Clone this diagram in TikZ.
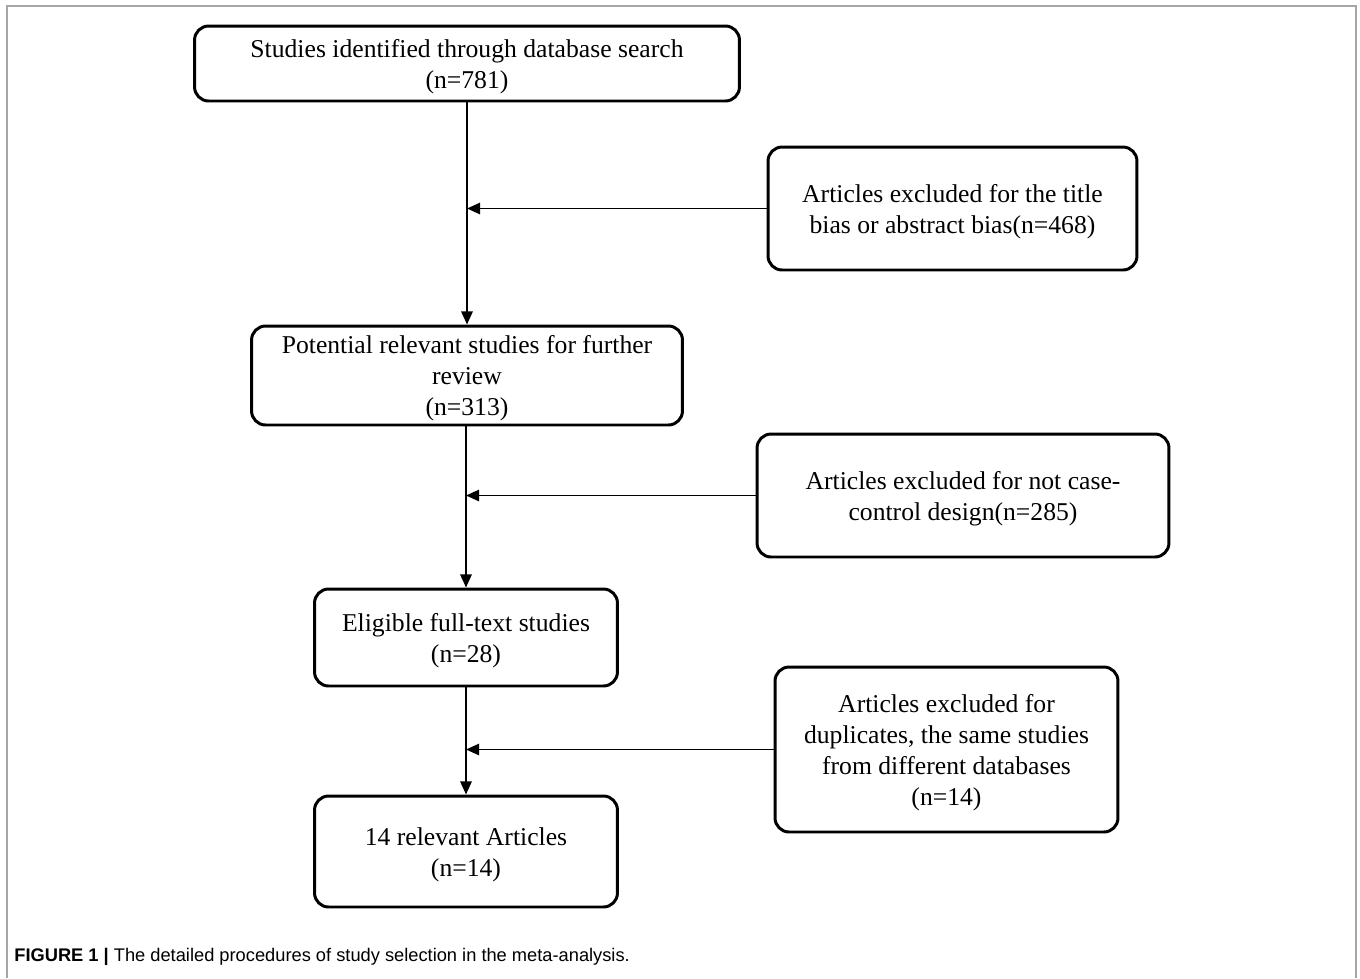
\documentclass[tikz,border=0pt]{standalone}
\usepackage{fontspec}
\setmainfont{Liberation Serif}
\newfontfamily\capfont{Liberation Sans}
\usepackage{tikz}
\usetikzlibrary{positioning,arrows.meta,calc}
\usepackage{xcolor}
\newcommand{\lines}[1]{\begin{tabular}{@{}c@{}}\rule{0pt}{15.8pt}#1\end{tabular}}

\begin{document}
\begin{tikzpicture}[x=0.02cm,y=-0.02cm,
  every node/.style={font=\fontsize{14.6}{17.6}\selectfont},
  stage/.style={draw,line width=1.7pt,rounded corners=8pt,inner sep=0pt},
  flow/.style={line width=1.1pt,-{Triangle[length=7.5pt,width=6.5pt]}}]
\useasboundingbox (0,0) rectangle (1360,978);
\draw[gray!70,line width=1.1pt] (7,978) -- (7,6) -- (1356,6) -- (1356,978);
\node[stage,minimum width=10.9cm,minimum height=1.5cm] (found) at (467,63.5)
  {\lines{Studies identified through database search\\(n=781)}};
\node[stage,minimum width=8.62cm,minimum height=1.98cm] (potential) at (467,375.5)
  {\lines{Potential relevant studies for further\\review\\(n=313)}};
\node[stage,minimum width=6.06cm,minimum height=1.94cm] (eligible) at (466,637.5)
  {\lines{Eligible full-text studies\\(n=28)}};
\node[stage,minimum width=6.06cm,minimum height=2.22cm] (relevant) at (466,851.5)
  {\lines{14 relevant Articles\\(n=14)}};
\node[stage,minimum width=7.38cm,minimum height=2.46cm] (exTitle) at (952.5,208.5)
  {\lines{Articles excluded for the title\\bias or abstract bias(n=468)}};
\node[stage,minimum width=8.24cm,minimum height=2.46cm] (exDesign) at (963,495.5)
  {\lines{Articles excluded for not case-\\control design(n=285)}};
\node[stage,minimum width=6.86cm,minimum height=3.3cm] (exDup) at (946.5,749.5)
  {\lines{Articles excluded for\\duplicates, the same studies\\from different databases\\(n=14)}};
\draw[flow] (found.south -| 467,0) -- (potential.north -| 467,0);
\draw[flow] (potential.south -| 466,0) -- (eligible.north);
\draw[flow] (eligible.south) -- (relevant.north);
\draw[flow] (exTitle.west) -- (exTitle.west -| 467,0);
\draw[flow] (exDesign.west) -- (exDesign.west -| 466,0);
\draw[flow] (exDup.west) -- (exDup.west -| eligible.south);
\node[anchor=west,inner sep=0pt,font=\capfont\fontsize{10.4}{12}\selectfont] (caption) at (14,957)
  {\textbf{FIGURE 1 |} The detailed procedures of study selection in the meta-analysis.};
\end{tikzpicture}
\end{document}
